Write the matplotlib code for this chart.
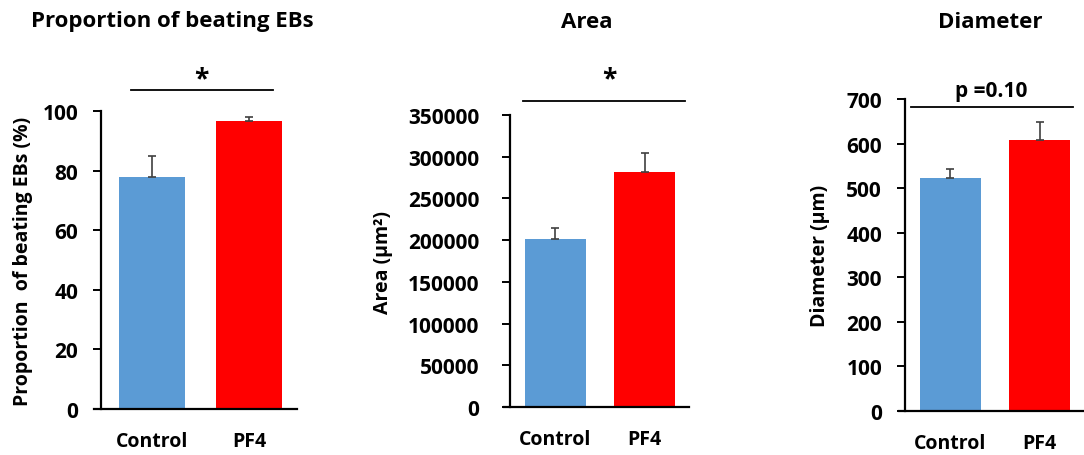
import matplotlib
matplotlib.use("Agg")
import matplotlib.pyplot as plt

plt.rcParams['font.family'] = ['Open Sans', 'DejaVu Sans']
plt.rcParams['font.weight'] = 'bold'

groups = ["Control", "PF4"]
colors = ["#5B9BD5", "#FF0000"]

beating = [78.0, 96.7]
beating_err = [6.8, 1.4]

area = [201000, 281500]
area_err = [13300, 23500]

diameter = [523, 608]
diameter_err = [20, 40]

titles = ["Proportion of beating EBs", "Area", "Diameter"]
ylabels = ["Proportion  of beating EBs (%)", "Area (\u03bcm\u00b2)", "Diameter (\u03bcm)"]
sig_labels = ["*", "*", "p =0.10"]

W, H = 1084, 456
fig = plt.figure(figsize=(W / 100, H / 100), dpi=100)


def px_axes(left, right, bottom, top):
    return fig.add_axes([left / W, 1 - bottom / H, (right - left) / W, (bottom - top) / H])


panels = [
    dict(rect=(101, 297, 410, 112), vals=beating, err=beating_err, ylim=100, step=20,
         xlim=(-0.52, 1.49), sig=(-0.21, 1.24, 107.1), title_x=172,
         tpad=10.5, lpad=7, star=(201, 76)),
    dict(rect=(510, 689, 408, 116), vals=area, err=area_err, ylim=350000, step=50000,
         xlim=(-0.506, 1.494), sig=(-0.36, 1.45, 366800), title_x=587,
         tpad=16, lpad=11, star=(609, 76)),
    dict(rect=(905, 1083, 412, 100), vals=diameter, err=diameter_err, ylim=700, step=100,
         xlim=(-0.506, 1.483), sig=(-0.44, 1.37, 681), title_x=990,
         tpad=10.5, lpad=12, star=(991, 92)),
]

for i, p in enumerate(panels):
    ax = px_axes(*p["rect"])
    x = [0, 1]
    ax.bar(x, p["vals"], width=0.68, color=colors, zorder=2)
    ax.errorbar(x, p["vals"], yerr=[[0, 0], p["err"]], fmt="none",
                ecolor="#404040", elinewidth=1.2, capsize=3.2, capthick=1.2, zorder=3)
    ax.set_xlim(*p["xlim"])
    ax.set_ylim(0, p["ylim"])
    ax.set_yticks(range(0, p["ylim"] + 1, p["step"]))
    ax.set_xticks(x)
    ax.set_xticklabels(groups)
    for s in ["top", "right"]:
        ax.spines[s].set_visible(False)
    for s in ["left", "bottom"]:
        ax.spines[s].set_linewidth(1.6)
    ax.spines["bottom"].set_bounds(p["xlim"][0] - 0.07, p["xlim"][1])
    ax.tick_params(axis="y", length=6, width=1.4, pad=p["tpad"], labelsize=15)
    ax.tick_params(axis="x", length=0, pad=16, labelsize=14)
    ax.set_ylabel(ylabels[i], fontsize=14, fontweight="bold", labelpad=p["lpad"])
    x0, x1, ys = p["sig"]
    ax.plot([x0, x1], [ys, ys], color="black", lw=1.3, clip_on=False)
    sx, sy = p["star"]
    if sig_labels[i] == "*":
        fig.text(sx / W, 1 - (sy + 4) / H, "*", ha="center", va="center",
                 fontsize=19, fontweight="bold")
    else:
        fig.text(sx / W, 1 - sy / H, sig_labels[i], ha="center", va="center",
                 fontsize=15, fontweight="bold")
    fig.text(p["title_x"] / W, 1 - 22 / H, titles[i], ha="center", va="center",
             fontsize=16, fontweight="bold")

fig.savefig("out.png", dpi=100)
